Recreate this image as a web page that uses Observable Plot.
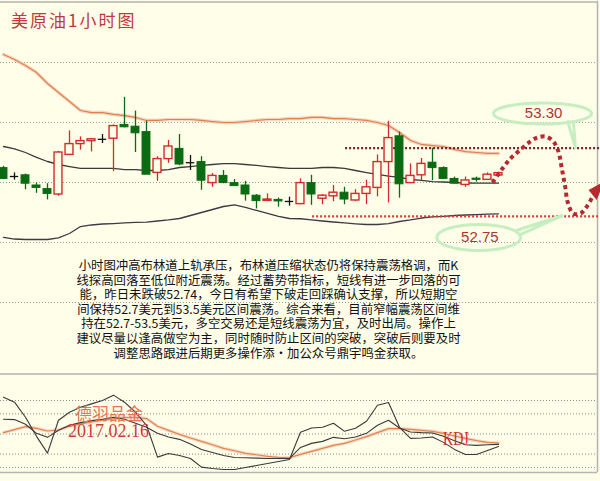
<!DOCTYPE html>
<html>
<head>
<meta charset="utf-8">
<script src="https://cdn.jsdelivr.net/npm/d3@7"></script>
<script src="https://cdn.jsdelivr.net/npm/@observablehq/plot@0.6"></script>
<style>
html,body{margin:0;padding:0;background:#fefee9;}
#wrap{position:relative;width:600px;height:481px;overflow:hidden;background:#fefee9;}
#main{position:absolute;left:0;top:0;}
#kdj{position:absolute;left:0;top:373px;}
.title{position:absolute;left:11px;top:11px;font-family:"Noto Sans CJK SC";font-size:17px;line-height:17px;letter-spacing:2px;color:#c0393b;white-space:nowrap;}
.para{position:absolute;left:68px;top:258px;width:401px;text-align:center;font-family:"Noto Sans CJK SC";font-size:12.4px;line-height:14.6px;color:#111;white-space:nowrap;}
.wm1{position:absolute;left:75px;top:403px;font-family:"Noto Sans CJK SC";font-size:17px;line-height:20px;color:#e8735a;white-space:nowrap;}
.wm2{position:absolute;left:68px;top:422px;font-family:"Liberation Serif";font-size:18px;line-height:18px;color:#d23a3a;white-space:nowrap;}
.kdjlab{position:absolute;left:443px;top:430px;font-family:"Liberation Serif";font-size:18px;line-height:18px;color:#c83030;transform:scaleX(0.78);transform-origin:left top;white-space:nowrap;}
</style>
</head>
<body>
<div id="wrap">
  <div id="main"></div>
  <div id="kdj"></div>
  <div class="title" id="title"></div>
  <div class="para" id="para"></div>
  <div class="wm1" id="wm1"></div>
  <div class="wm2" id="wm2"></div>
  <div class="kdjlab" id="kdjlab"></div>
</div>
<script>
// ---------- data ----------
const titleText = "美原油1小时图";
const paragraphLines = [
  "小时图冲高布林道上轨承压，布林道压缩状态仍将保持震荡格调，而K",
  "线探高回落至低位附近震荡。经过蓄势带指标，短线有进一步回落的可",
  "能，昨日未跌破52.74，今日有希望下破走回踩确认支撑，所以短期空",
  "间保持52.7美元到53.5美元区间震荡。综合来看，目前窄幅震荡区间维",
  "持在52.7-53.5美元，多空交易还是短线震荡为宜，及时出局。操作上",
  "建议尽量以逢高做空为主，同时随时防止区间的突破，突破后则要及时",
  "调整思路跟进后期更多操作添•加公众号鼎宇鸣金获取。"
];
const watermarkName = "德羽品金";
const watermarkDate = "2017.02.16";
const indicatorName = "KDJ";

const openP  = [53.12,53.05,53.06,52.975,52.945,52.90,53.23,53.32,53.345,53.36,53.365,53.48,53.465,53.42,53.08,53.195,53.28,53.165,53.17,52.995,53.055,52.995,52.975,52.89,52.847,52.855,52.842,52.82,52.995,52.865,52.885,52.915,52.85,52.905,52.955,53.17,53.385,52.995,53.06,53.165,53.12,53.03,52.98,53.032,53.022,53.058];
const highP  = [53.135,53.08,53.07,52.995,52.99,53.26,53.43,53.38,53.365,53.40,53.48,53.71,53.595,53.51,53.215,53.35,53.40,53.225,53.215,53.075,53.10,53.025,53.01,52.90,52.905,52.87,52.878,53.03,53.06,52.90,52.975,52.96,52.94,53.02,53.23,53.51,53.42,53.155,53.20,53.285,53.13,53.045,53.045,53.045,53.08,53.086];
const lowP   = [53.025,53.02,52.94,52.91,52.855,52.885,53.225,53.27,53.255,53.325,53.09,53.455,53.25,53.065,53.01,53.16,53.14,53.10,52.935,52.96,52.99,52.97,52.845,52.78,52.84,52.795,52.803,52.815,52.81,52.815,52.84,52.815,52.84,52.815,52.88,52.83,52.87,52.99,53.015,53.015,53.03,52.99,52.96,53.003,53.017,53.058];
const closeP = [53.03,53.05,52.99,52.955,52.905,53.25,53.32,53.345,53.36,53.36,53.47,53.46,53.41,53.065,53.195,53.30,53.15,53.165,53.015,53.055,52.995,52.97,52.90,52.845,52.858,52.842,52.842,52.995,52.90,52.89,52.915,52.858,52.905,52.96,53.17,53.37,52.985,53.055,53.155,53.12,53.03,52.99,53.017,53.022,53.065,53.078];

const bollUpper = [54.067,54.025,53.975,53.917,53.825,53.75,53.675,53.60,53.583,53.583,53.567,53.558,53.542,53.517,53.517,53.525,53.525,53.525,53.517,53.508,53.50,53.50,53.508,53.517,53.525,53.525,53.533,53.533,53.542,53.542,53.533,53.533,53.525,53.517,53.50,53.475,53.417,53.35,53.317,53.308,53.30,53.275,53.258,53.25,53.242,53.242];
const bollMid   = [53.30,53.28,53.25,53.21,53.175,53.15,53.133,53.117,53.117,53.117,53.117,53.108,53.108,53.10,53.10,53.108,53.125,53.133,53.142,53.15,53.158,53.158,53.15,53.142,53.133,53.125,53.117,53.117,53.117,53.125,53.125,53.117,53.10,53.083,53.067,53.054,53.042,53.025,53.017,53.008,53.004,53.0,52.996,52.994,52.994,52.994];
const bollLower = [52.542,52.529,52.525,52.525,52.525,52.538,52.575,52.633,52.646,52.654,52.658,52.663,52.667,52.669,52.679,52.688,52.70,52.725,52.75,52.775,52.80,52.813,52.792,52.767,52.742,52.717,52.70,52.698,52.689,52.679,52.671,52.663,52.656,52.65,52.65,52.658,52.675,52.688,52.704,52.713,52.718,52.725,52.729,52.733,52.737,52.739];

const kdjK = [72,71.5,64.5,51,45,55.5,63,67,70,72,75,72,66,60,51,45.5,42,35,27,22.5,18,15,14.5,14,13.5,13.5,13.5,30,36,39,45,43,45.5,51,63,70.5,59,53,52,51.5,46.5,40,34,33,34,34.5];
const kdjD = [52,56.5,61,58.5,54.5,56,61.5,65,68,70.5,73,74.5,75,73,61.5,55.5,49.5,44,39,34,28.5,25,21,19,16.5,15,14.5,19.5,24,28.5,33,36,41,46,52,58,58,57,55.5,54,51,47,43.5,40,37.5,36.5];
const kdjJ = [105,97.5,75,46.5,21.5,70.5,82.5,90,95,100,108,97.5,82.5,63,15.5,21,18,13.5,0.5,-1.5,-3,-3,0,3,6,9,12,52.5,59,60,66,54,58.5,69,93,97,60,43.5,44,45.5,37.5,27,19.5,19.5,25.5,31.5];

const priceGrid = [54, 53.5, 53, 52.5, 52];
const kdjGrid = [100, 80, 50, 20, 0];

// forecast path (bar index, price)
const forecastI = [44.455,45.364,46.091,46.909,47.909,48.545,49.273,49.909,50.273,50.545,50.727,50.909,51.091,51.273,51.791,52.455,53.091,53.636];
const forecastP = [53.000,53.117,53.200,53.267,53.342,53.375,53.383,53.350,53.300,53.225,53.133,53.042,52.950,52.842,52.742,52.742,52.808,52.900];

// key levels as drawn, their labels, and where their lines start (bar index)
const levelLabels = ["53.30", "52.75"];
const levelDrawn  = [53.286, 52.717];
const levelStart  = [31.1, 28.1];
const levelColors = ["#6e2626", "#d23c3c"];
const bubbleI = [49.0, 43.2];
const bubbleP = [53.575, 52.542];

// ---------- layout constants ----------
const BG = "#fefee9", RED = "#d42a2a", GREEN = "#0b6b12", DOJI = "#111";
const xDomain = [-3/11, 597/11];
const xRight = 54;
const xLeft = -3/11;

const idx = d3.range(openP.length);
const candles = idx.map(i => ({i, o: openP[i], h: highP[i], l: lowP[i], c: closeP[i]}));
const up = candles.filter(d => d.c > d.o);
const down = candles.filter(d => d.c < d.o);
const flat = candles.filter(d => d.c === d.o);
const halfW = 0.36;

function bubbleSymbol(rx, ry, tail) {
  const k = 0.5523;
  return {
    draw(ctx) {
      ctx.moveTo(rx, 0);
      ctx.bezierCurveTo(rx, ry * k, rx * k, ry, 0, ry);
      ctx.bezierCurveTo(-rx * k, ry, -rx, ry * k, -rx, 0);
      ctx.bezierCurveTo(-rx, -ry * k, -rx * k, -ry, 0, -ry);
      ctx.bezierCurveTo(rx * k, -ry, rx, -ry * k, rx, 0);
      ctx.moveTo(tail[0][0], tail[0][1]);
      ctx.lineTo(tail[1][0], tail[1][1]);
      ctx.lineTo(tail[2][0], tail[2][1]);
    }
  };
}
const arrowHead = {
  draw(ctx) {
    ctx.moveTo(10, -11);
    ctx.lineTo(-6, -2);
    ctx.lineTo(2, 8);
    ctx.closePath();
  }
};

const forecast = forecastI.map((x, k) => ({x, y: forecastP[k]}));
const levels = levelLabels.map((t, k) => ({t, y: levelDrawn[k], x1: levelStart[k], c: levelColors[k], bx: bubbleI[k], by: bubbleP[k]}));

const mainPlot = Plot.plot({
  width: 600, height: 373,
  marginTop: 0, marginRight: 0, marginBottom: 0, marginLeft: 0,
  style: {background: "transparent", overflow: "visible"},
  x: {domain: xDomain, axis: null},
  y: {domain: [54 - 311/120, 54 + 62/120], axis: null},
  marks: [
    Plot.ruleY(priceGrid, {y: d => d, x1: () => xLeft, x2: () => xRight, stroke: "#9c9c9c", strokeDasharray: "1,2", strokeWidth: 1}),
    Plot.ruleY([54.505], {x1: () => xLeft, x2: () => xRight, stroke: "#b4b4b4", strokeWidth: 1.5}),
    Plot.ruleX([xRight], {y1: () => 51.4, y2: () => 54.51, stroke: "#b4b4b4", strokeWidth: 1.5}),
    // Bollinger bands
    Plot.line(idx, {x: i => i, y: i => bollUpper[i], stroke: "#f5d6c0", strokeWidth: 3.5}),
    Plot.line(idx, {x: i => i, y: i => bollUpper[i], stroke: "#e0804c", strokeWidth: 1.2}),
    Plot.line(idx, {x: i => i, y: i => bollMid[i], stroke: "#3a3a3a", strokeWidth: 1.3}),
    Plot.line(idx, {x: i => i, y: i => bollLower[i], stroke: "#403848", strokeWidth: 1.3}),
    // level lines
    ...levels.map(l => Plot.ruleY([l], {y: "y", x1: "x1", x2: () => 55, stroke: l.c, strokeWidth: 2.2, strokeDasharray: "2,2"})),
    // candles
    Plot.ruleX(up, {x: "i", y1: "l", y2: "h", stroke: RED, strokeWidth: 1.3}),
    Plot.ruleX(down, {x: "i", y1: "l", y2: "h", stroke: GREEN, strokeWidth: 1.3}),
    Plot.ruleX(flat, {x: "i", y1: "l", y2: "h", stroke: DOJI, strokeWidth: 1.3}),
    Plot.rect(up, {x1: d => d.i - halfW, x2: d => d.i + halfW, y1: "o", y2: "c", fill: BG, stroke: RED, strokeWidth: 1.4}),
    Plot.rect(down, {x1: d => d.i - halfW, x2: d => d.i + halfW, y1: "o", y2: "c", fill: GREEN, stroke: GREEN, strokeWidth: 1}),
    Plot.ruleY(flat, {y: "o", x1: d => d.i - 0.38, x2: d => d.i + 0.38, stroke: DOJI, strokeWidth: 1.3}),
    // forecast path
    Plot.line(forecast, {x: "x", y: "y", curve: "catmull-rom", stroke: "#b8292f", strokeWidth: 4, strokeDasharray: "4,3.5", strokeLinecap: "butt", strokeLinejoin: "miter"}),
    Plot.dot([forecast[forecast.length - 1]], {x: d => d.x + 0.1, y: d => d.y + 0.02, symbol: arrowHead, fill: "#b8292f", stroke: "none", r: 5}),
    // callout bubbles
    Plot.dot([levels[0]], {x: "bx", y: "by", symbol: bubbleSymbol(49, 10.5, [[25, 7], [33, 35], [31, 9]]), fill: "none", stroke: "#c6eec0", strokeWidth: 3, r: 5}),
    Plot.dot([levels[1]], {x: "bx", y: "by", symbol: bubbleSymbol(42, 13, [[36, -6.5], [84, -22], [41, -2.5]]), fill: "none", stroke: "#c6eec0", strokeWidth: 3, r: 5}),
    Plot.text(levels, {x: d => d.bx + 0.1, y: "by", text: "t", fill: "#b03434", fontSize: 15, fontFamily: "Liberation Sans", letterSpacing: 1})
  ]
});
document.getElementById("main").appendChild(mainPlot);

const kdjPlot = Plot.plot({
  width: 600, height: 108,
  marginTop: 0, marginRight: 0, marginBottom: 0, marginLeft: 0,
  style: {background: "transparent", overflow: "visible"},
  x: {domain: xDomain, axis: null},
  y: {domain: [-14 / 0.67, 94 / 0.67], axis: null},
  marks: [
    Plot.ruleY(kdjGrid, {y: d => d, x1: () => xLeft, x2: () => xRight, stroke: "#8c8c8c", strokeDasharray: "1,2", strokeWidth: 1}),
    Plot.ruleY([139.5], {x1: () => xLeft, x2: () => xRight, stroke: "#b4b4b4", strokeWidth: 1.5}),
    Plot.ruleY([-7.6], {x1: () => xLeft, x2: () => xRight, stroke: "#b4b4b4", strokeWidth: 1.5}),
    Plot.ruleX([xRight], {y1: () => -7.6, y2: () => 140, stroke: "#b4b4b4", strokeWidth: 1.5}),
    Plot.line(idx, {x: i => i, y: i => kdjD[i], stroke: "#f8dcc8", strokeWidth: 3.5}),
    Plot.line(idx, {x: i => i, y: i => kdjD[i], stroke: "#e4834e", strokeWidth: 1.2}),
    Plot.line(idx, {x: i => i, y: i => kdjK[i], stroke: "#3a3a3a", strokeWidth: 1.1}),
    Plot.line(idx, {x: i => i, y: i => kdjJ[i], stroke: "#3a3a3a", strokeWidth: 1.1})
  ]
});
document.getElementById("kdj").appendChild(kdjPlot);

document.getElementById("title").textContent = titleText;
const para = document.getElementById("para");
paragraphLines.forEach(line => { const d = document.createElement("div"); d.textContent = line; para.appendChild(d); });
document.getElementById("wm1").textContent = watermarkName;
document.getElementById("wm2").textContent = watermarkDate;
document.getElementById("kdjlab").textContent = indicatorName;
</script>
</body>
</html>
